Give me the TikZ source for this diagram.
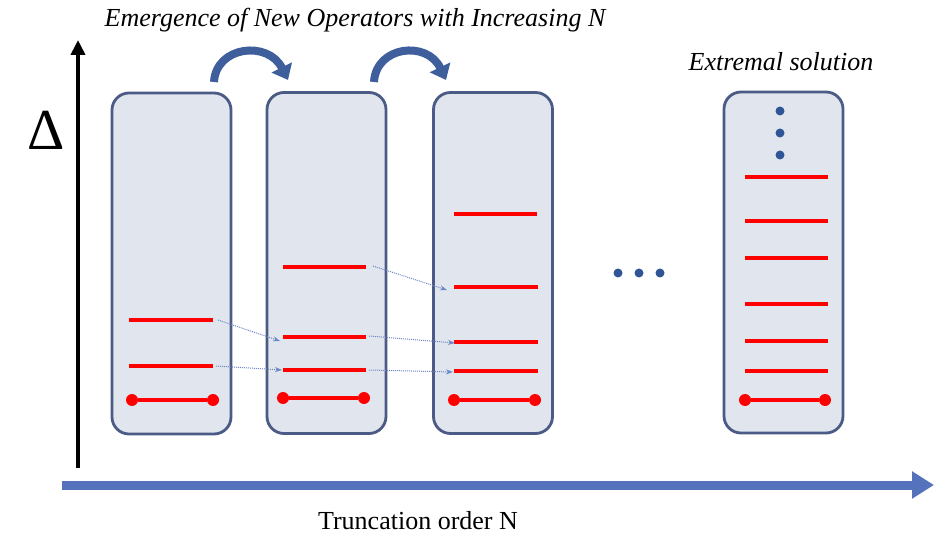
\documentclass[tikz,border=0pt]{standalone}
\usepackage{fontspec}
\setmainfont{Liberation Serif}
\usetikzlibrary{arrows.meta}
\definecolor{boxfill}{HTML}{E1E6EE}
\definecolor{boxdraw}{HTML}{4B5B86}
\definecolor{axisblue}{HTML}{5572BC}
\definecolor{curveblue}{HTML}{3F5F9C}
\definecolor{dotblue}{HTML}{2F5597}
\definecolor{lvlred}{HTML}{FF0000}
\begin{document}
\begin{tikzpicture}[x=1pt,y=-1pt,
  colbox/.style={draw=boxdraw, fill=boxfill, line width=2.8pt, rounded corners=17pt, minimum width=119pt, minimum height=341pt, inner sep=0pt},
  lvl/.style={draw=lvlred, line width=3.2pt},
  ends/.style={fill=lvlred, circle, inner sep=0pt, minimum size=12pt},
  flow/.style={draw=axisblue!85, densely dotted, line width=1pt, -{Stealth[length=7pt,width=5pt]}},
  hop/.style={draw=curveblue, line width=8pt, -{Triangle[length=14pt,width=22pt]}},
  vdot/.style={fill=dotblue, circle, inner sep=0pt, minimum size=9pt}]
\useasboundingbox (0,0) rectangle (934,534);
% axes
\coordinate (vb) at (78,468);
\coordinate (vt) at (78,40);
\draw[line width=4pt, -{Triangle[length=15pt,width=14pt]}] (vb) -- (vt);
\coordinate (hl) at (62,485);
\coordinate (hr) at (934,485);
\draw[draw=axisblue, line width=9pt, -{Triangle[length=22pt,width=26pt]}] (hl) -- (hr);
\node (delta) at (46,130) {\fontsize{58}{60}\selectfont Δ};
\node[inner sep=0pt, anchor=base] (xlab) at (418,529) {\fontsize{26}{30}\selectfont Truncation order N};
\node (title) at (355,20) {\fontsize{26}{30}\selectfont\itshape Emergence of New Operators with Increasing N};
\node (ext) at (781,62) {\fontsize{26}{30}\selectfont\itshape Extremal solution};
% boxes
\node[colbox] (b1) at (171.5,263.5) {};
\node[colbox] (b2) at (326.5,263) {};
\node[colbox] (b3) at (493,263) {};
\node[colbox] (b4) at (783.5,262.5) {};
% box 1 levels
\coordinate (a1l) at (129,320); \coordinate (a1r) at (213,320);
\coordinate (a2l) at (129,366); \coordinate (a2r) at (213,366);
\draw[lvl] (a1l) -- (a1r);
\draw[lvl] (a2l) -- (a2r);
\node[ends] (d1l) at (132,400) {}; \node[ends] (d1r) at (213,400) {};
\draw[lvl] (d1l) -- (d1r);
% box 2 levels
\coordinate (c1l) at (283,267); \coordinate (c1r) at (366,267);
\coordinate (c2l) at (283,337); \coordinate (c2r) at (366,337);
\coordinate (c3l) at (283,370); \coordinate (c3r) at (366,370);
\draw[lvl] (c1l) -- (c1r);
\draw[lvl] (c2l) -- (c2r);
\draw[lvl] (c3l) -- (c3r);
\node[ends] (d2l) at (283,398) {}; \node[ends] (d2r) at (364,398) {};
\draw[lvl] (d2l) -- (d2r);
% box 3 levels
\coordinate (e1l) at (454,214); \coordinate (e1r) at (537,214);
\coordinate (e2l) at (454,287); \coordinate (e2r) at (538,287);
\coordinate (e3l) at (454,342); \coordinate (e3r) at (538,342);
\coordinate (e4l) at (454,371); \coordinate (e4r) at (538,371);
\foreach \n in {1,2,3,4} {\draw[lvl] (e\n l) -- (e\n r);}
\node[ends] (d3l) at (454,400) {}; \node[ends] (d3r) at (535,400) {};
\draw[lvl] (d3l) -- (d3r);
% box 4 levels
\foreach \n/\yy in {1/177,2/221,3/258,4/304,5/341,6/371} {
  \coordinate (f\n l) at (745,\yy); \coordinate (f\n r) at (828,\yy);
  \draw[lvl] (f\n l) -- (f\n r);
}
\node[ends] (d4l) at (745,400) {}; \node[ends] (d4r) at (825,400) {};
\draw[lvl] (d4l) -- (d4r);
\node[vdot] (v1) at (780,111) {};
\node[vdot] (v2) at (780,133) {};
\node[vdot] (v3) at (780,155) {};
% horizontal dots
\node[vdot] (h1) at (618,273) {};
\node[vdot] (h2) at (639,273) {};
\node[vdot] (h3) at (660,273) {};
% flow arrows
\draw[flow] ([xshift=5pt]a1r) -- ([xshift=-3pt,yshift=-4pt]c2l);
\draw[flow] ([xshift=3pt]a2r) -- ([xshift=-1pt]c3l);
\draw[flow] ([xshift=7pt,yshift=1pt]c1r) -- ([xshift=-7pt,yshift=-3pt]e2l);
\draw[flow] ([xshift=3pt,yshift=1pt]c2r) -- ([xshift=1pt,yshift=-1pt]e3l);
\draw[flow] ([xshift=3pt]c3r) -- ([xshift=-1pt,yshift=-1pt]e4l);
% hop arrows
\coordinate (p1) at (214,82); \coordinate (q1) at (288,80);
\coordinate (p2) at (374,82); \coordinate (q2) at (446,80);
\draw[hop] (p1) .. controls (216,46) and (268,40) .. (q1);
\draw[hop] (p2) .. controls (376,46) and (427,40) .. (q2);
\end{tikzpicture}
\end{document}
